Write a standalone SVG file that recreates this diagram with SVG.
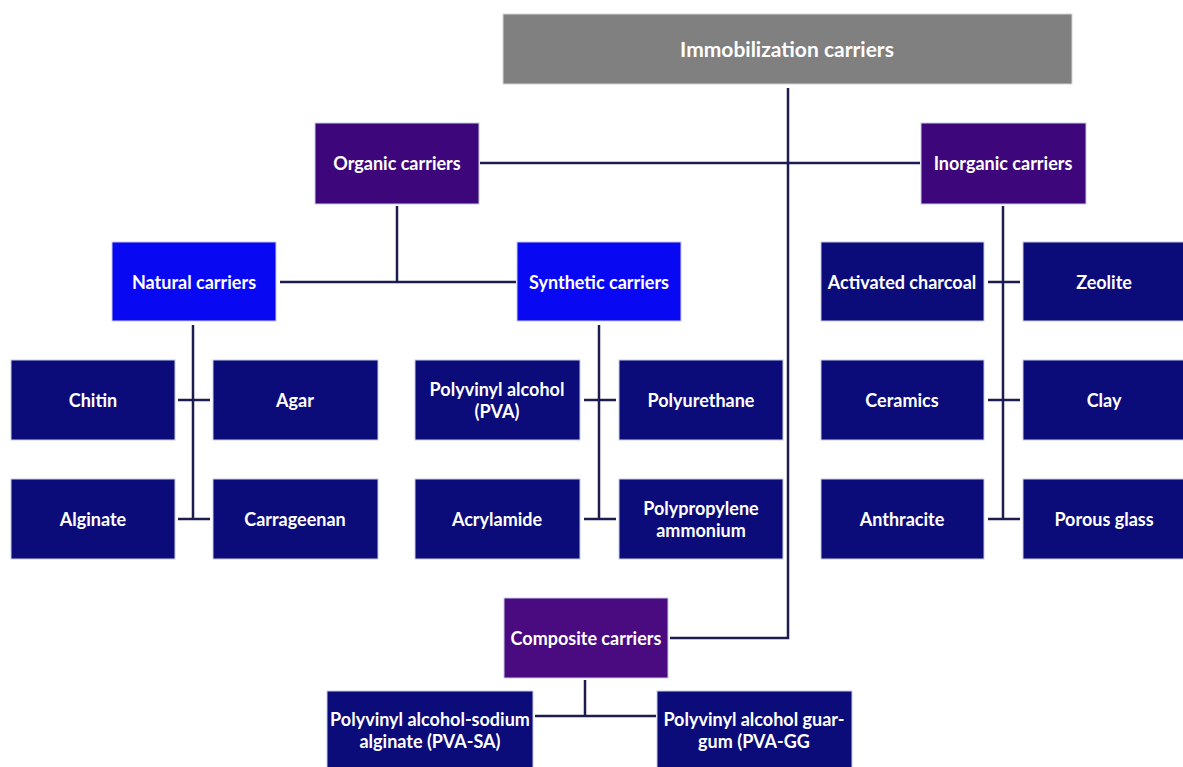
<svg xmlns="http://www.w3.org/2000/svg" width="1183" height="767" viewBox="0 0 1183 767">
<style>
text{font-family:Lato,"Open Sans","Liberation Sans",sans-serif;font-weight:bold;fill:#ffffff;text-anchor:middle;dominant-baseline:central;font-size:18px}
.leaf{fill:#0b0b7a;stroke:#c8cbe6;stroke-width:1}
.org{fill:#3d067a;stroke:#c8cbe6;stroke-width:1}
.comp{fill:#4a0a80;stroke:#c8cbe6;stroke-width:1}
.nat{fill:#0808f2;stroke:#c8cbe6;stroke-width:1}
.root{fill:#808080;stroke:#d6d6d6;stroke-width:1}
.c{stroke:#1c1c50;stroke-width:2.5;fill:none}
</style>
<rect width="1183" height="767" fill="#ffffff"/>
<g id="connectors">
<path class="c" d="M788 88V638H670"/>
<path class="c" d="M480 163H920"/>
<path class="c" d="M397 206V282M280 282H516"/>
<path class="c" d="M193 325V519M178 400H210M178 519H210"/>
<path class="c" d="M599 325V519M584 400H616M584 519H616"/>
<path class="c" d="M1003 206V519M988 282H1020M988 400H1020M988 519H1020"/>
<path class="c" d="M585 680V716M535 716H656"/>
</g>
<g id="root"><rect class="root" x="503" y="14" width="569" height="70"/><text x="787" y="48" style="font-size:21px">Immobilization carriers</text></g>
<g id="organic"><rect class="org" x="315" y="123" width="164" height="81"/><text x="397" y="163">Organic carriers</text></g>
<g id="inorganic"><rect class="org" x="921" y="123" width="165" height="81"/><text x="1003" y="163">Inorganic carriers</text></g>
<g id="natural"><rect class="nat" x="112" y="242" width="164" height="79"/><text x="194" y="282">Natural carriers</text></g>
<g id="synthetic"><rect class="nat" x="517" y="242" width="164" height="79"/><text x="599" y="282">Synthetic carriers</text></g>
<g id="chitin"><rect class="leaf" x="11" y="360" width="164" height="80"/><text x="93" y="400">Chitin</text></g>
<g id="agar"><rect class="leaf" x="213" y="360" width="165" height="80"/><text x="295" y="400">Agar</text></g>
<g id="alginate"><rect class="leaf" x="11" y="479" width="164" height="80"/><text x="93" y="519">Alginate</text></g>
<g id="carrageenan"><rect class="leaf" x="213" y="479" width="165" height="80"/><text x="295" y="519">Carrageenan</text></g>
<g id="pva"><rect class="leaf" x="415" y="360" width="165" height="80"/><text x="497" y="389">Polyvinyl alcohol</text><text x="497" y="411">(PVA)</text></g>
<g id="polyurethane"><rect class="leaf" x="619" y="360" width="164" height="80"/><text x="701" y="400">Polyurethane</text></g>
<g id="acrylamide"><rect class="leaf" x="415" y="479" width="165" height="80"/><text x="497" y="519">Acrylamide</text></g>
<g id="polypropylene"><rect class="leaf" x="619" y="479" width="164" height="80"/><text x="701" y="508">Polypropylene</text><text x="701" y="530">ammonium</text></g>
<g id="charcoal"><rect class="leaf" x="821" y="242" width="163" height="79"/><text x="902" y="282">Activated charcoal</text></g>
<g id="zeolite"><rect class="leaf" x="1023" y="242" width="165" height="79"/><text x="1104" y="282">Zeolite</text></g>
<g id="ceramics"><rect class="leaf" x="821" y="360" width="163" height="80"/><text x="902" y="400">Ceramics</text></g>
<g id="clay"><rect class="leaf" x="1023" y="360" width="165" height="80"/><text x="1104" y="400">Clay</text></g>
<g id="anthracite"><rect class="leaf" x="821" y="479" width="163" height="80"/><text x="902" y="519">Anthracite</text></g>
<g id="porousglass"><rect class="leaf" x="1023" y="479" width="165" height="80"/><text x="1104" y="519">Porous glass</text></g>
<g id="composite"><rect class="comp" x="504" y="598" width="164" height="80"/><text x="586" y="638">Composite carriers</text></g>
<g id="pvasa"><rect class="leaf" x="327" y="691" width="206" height="80"/><text x="430" y="719">Polyvinyl alcohol-sodium</text><text x="430" y="741">alginate (PVA-SA)</text></g>
<g id="pvagg"><rect class="leaf" x="657" y="691" width="195" height="80"/><text x="754" y="719">Polyvinyl alcohol guar-</text><text x="754" y="741">gum (PVA-GG</text></g>
</svg>
